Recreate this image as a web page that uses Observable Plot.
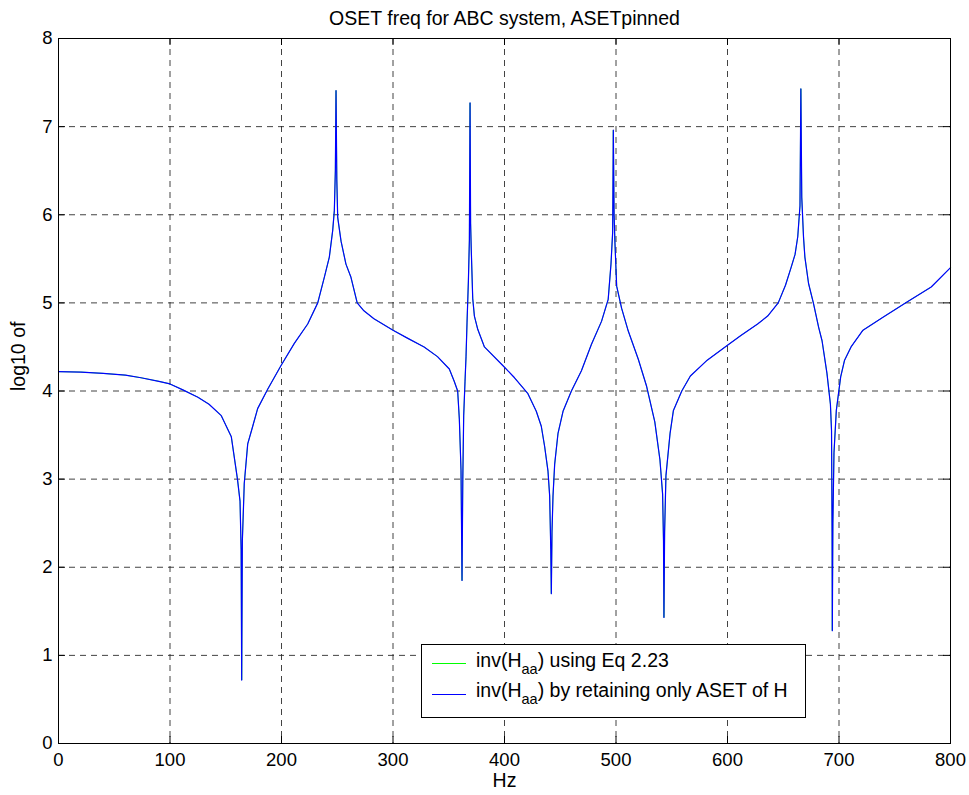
<!DOCTYPE html>
<html>
<head>
<meta charset="utf-8">
<script src="https://cdn.jsdelivr.net/npm/d3@7"></script>
<script src="https://cdn.jsdelivr.net/npm/@observablehq/plot@0.6"></script>
<style>
  body { margin: 0; background: #fff; }
  #chart svg { display: block; }
</style>
</head>
<body>
<div id="chart"></div>
<script>
// ---- data ----
const hz = [0, 20, 40, 60, 74, 90, 100, 112, 125, 135, 146, 155, 160.5, 162.8, 163.8, 164.3, 164.9, 166.6, 169.7, 174.2,
  178.6, 187.6, 199.6, 211.5, 223.5, 232.5, 238.4, 242.9, 245.9, 247.4, 248.3, 248.9, 249.6, 250.4, 253.4, 257.8,
  262.3, 267.9, 273.9, 282.9, 300, 312.9, 327.9, 339.9, 350.5, 354.9, 358, 359.5, 361, 361.9, 362.6, 363.4, 364.6,
  365.5, 366.4, 367.6, 368.5, 369.1, 369.6, 370.2, 371.5, 373, 376, 382, 400, 409, 421, 428.5, 433, 436, 439, 440.5,
  441.5, 442, 442.6, 443.5, 445, 448, 452.5, 460, 469, 478, 487, 493, 495.5, 497, 497.6, 498.3, 499, 500.6, 505, 511,
  520, 527.3, 534.8, 539.4, 541.8, 542.6, 543, 543.6, 544.8, 548.5, 551.5, 559, 566.7, 581.8, 600, 612, 627, 636,
  645.5, 652, 657, 660.6, 663, 665, 665.8, 666.6, 668.2, 669.4, 672.7, 677, 681.8, 684.8, 689.2, 692.3, 693.3, 693.8,
  694, 694.5, 695.5, 697.6, 701.5, 705, 710.8, 721.5, 739.8, 761, 782.7, 800];

const asetVals = [4.22, 4.215, 4.2, 4.18, 4.15, 4.11, 4.08, 4.01, 3.93, 3.85, 3.72, 3.48, 3.0, 2.75, 2.2, 0.72, 2.3, 2.95, 3.4, 3.6,
  3.8, 4.02, 4.29, 4.54, 4.76, 5.0, 5.29, 5.52, 5.82, 6.05, 6.5, 7.41, 6.4, 5.97, 5.7, 5.44,
  5.29, 5.0, 4.91, 4.82, 4.69, 4.6, 4.5, 4.39, 4.25, 4.11, 4.0, 3.68, 3.1, 1.85, 3.0, 3.72, 4.11,
  4.39, 4.78, 5.24, 5.71, 7.27, 5.9, 5.6, 5.05, 4.85, 4.7, 4.5, 4.27, 4.15, 3.97, 3.77, 3.6, 3.37, 3.09, 2.81,
  2.2, 1.7, 2.4, 2.81, 3.17, 3.52, 3.77, 4.0, 4.23, 4.53, 4.79, 5.04, 5.44, 5.8, 6.96, 6.0, 5.7, 5.19, 4.94, 4.68,
  4.36, 4.06, 3.65, 3.22, 2.83, 2.3, 1.43, 2.4, 3.04, 3.52, 3.78, 4.0, 4.17, 4.35, 4.52, 4.63, 4.76, 4.85,
  5.0, 5.2, 5.4, 5.55, 5.75, 6.1, 7.43, 6.2, 5.74, 5.52, 5.22, 5.0, 4.72, 4.57, 4.2, 3.85, 3.55, 2.4,
  1.28, 2.5, 3.3, 3.78, 4.16, 4.35, 4.5, 4.69, 4.84, 5.01, 5.18, 5.4];

// The Eq 2.23 curve coincides with the ASET curve in the picture
const eqVals = [4.22, 4.215, 4.2, 4.18, 4.15, 4.11, 4.08, 4.01, 3.93, 3.85, 3.72, 3.48, 3.0, 2.75, 2.2, 0.72, 2.3, 2.95, 3.4, 3.6,
  3.8, 4.02, 4.29, 4.54, 4.76, 5.0, 5.29, 5.52, 5.82, 6.05, 6.5, 7.41, 6.4, 5.97, 5.7, 5.44,
  5.29, 5.0, 4.91, 4.82, 4.69, 4.6, 4.5, 4.39, 4.25, 4.11, 4.0, 3.68, 3.1, 1.85, 3.0, 3.72, 4.11,
  4.39, 4.78, 5.24, 5.71, 7.27, 5.9, 5.6, 5.05, 4.85, 4.7, 4.5, 4.27, 4.15, 3.97, 3.77, 3.6, 3.37, 3.09, 2.81,
  2.2, 1.7, 2.4, 2.81, 3.17, 3.52, 3.77, 4.0, 4.23, 4.53, 4.79, 5.04, 5.44, 5.8, 6.96, 6.0, 5.7, 5.19, 4.94, 4.68,
  4.36, 4.06, 3.65, 3.22, 2.83, 2.3, 1.43, 2.4, 3.04, 3.52, 3.78, 4.0, 4.17, 4.35, 4.52, 4.63, 4.76, 4.85,
  5.0, 5.2, 5.4, 5.55, 5.75, 6.1, 7.43, 6.2, 5.74, 5.52, 5.22, 5.0, 4.72, 4.57, 4.2, 3.85, 3.55, 2.4,
  1.28, 2.5, 3.3, 3.78, 4.16, 4.35, 4.5, 4.69, 4.84, 5.01, 5.18, 5.4];

const xTicks = [0, 100, 200, 300, 400, 500, 600, 700, 800];
const yTicks = [0, 1, 2, 3, 4, 5, 6, 7, 8];
const titleText = "OSET freq for ABC system, ASETpinned";
const xLabel = "Hz";
const yLabel = "log10 of";
const legendItems = [
  { pre: "inv(H", sub: "aa", post: ") using Eq 2.23", color: "#00ff00" },
  { pre: "inv(H", sub: "aa", post: ") by retaining only ASET of H", color: "#0000ff" }
];

// ---- chart ----
const rows = hz.map((h, i) => ({ hz: h, eq: eqVals[i], aset: asetVals[i] }));
const font = "'Liberation Sans', Arial, Helvetica, sans-serif";
const grid = { stroke: "#222", strokeOpacity: 0.85, strokeDasharray: "6,5", strokeWidth: 1 };
const tickStyle = { stroke: "#000", strokeWidth: 1 };

const chart = Plot.plot({
  width: 969,
  height: 795,
  marginLeft: 58,
  marginRight: 19,
  marginTop: 38,
  marginBottom: 52,
  style: { fontFamily: font, fontSize: "18.5px", background: "#fff", color: "#000" },
  x: { domain: [0, 800] },
  y: { domain: [0, 8] },
  marks: [
    Plot.ruleX(xTicks.slice(1, -1), grid),
    Plot.ruleY(yTicks.slice(1, -1), grid),
    // inward ticks on all four sides
    Plot.ruleX(xTicks, { x: d => d, y1: 0, y2: 0, insetTop: -7, ...tickStyle }),
    Plot.ruleX(xTicks, { x: d => d, y1: 8, y2: 8, insetBottom: -7, ...tickStyle }),
    Plot.ruleY(yTicks, { y: d => d, x1: 0, x2: 0, insetRight: -7, ...tickStyle }),
    Plot.ruleY(yTicks, { y: d => d, x1: 800, x2: 800, insetLeft: -7, ...tickStyle }),
    Plot.line(rows, { x: "hz", y: "eq", stroke: "#00ff00", strokeWidth: 0.8 }),
    Plot.line(rows, { x: "hz", y: "aset", stroke: "#0000ff", strokeWidth: 1.2 }),
    Plot.frame({ stroke: "#000", strokeWidth: 1 }),
    Plot.axisX(xTicks, { tickSize: 0, tickPadding: 9, label: null, fontSize: 18.5, tickFormat: d => String(d) }),
    Plot.axisY(yTicks, { tickSize: 0, tickPadding: 6, label: null, fontSize: 18.5, tickFormat: d => String(d) }),
    Plot.text([titleText], { text: d => d, frameAnchor: "top", dy: -27, fontSize: 19.5 }),
    Plot.text([xLabel], { text: d => d, frameAnchor: "bottom", dy: 43, fontSize: 19.5 }),
    Plot.text([yLabel], { text: d => d, frameAnchor: "left", dx: -40, rotate: -90, fontSize: 19.5 })
  ]
});

document.getElementById("chart").appendChild(chart);

// ---- legend (inside the axes, like the reference) ----
const svg = d3.select(chart);
const lg = svg.append("g")
  .attr("font-family", font).attr("font-size", 19.5).attr("fill", "#000")
  .attr("text-anchor", "start");
lg.append("rect")
  .attr("x", 421.5).attr("y", 644.5).attr("width", 384).attr("height", 73)
  .attr("fill", "#fff").attr("stroke", "#000").attr("stroke-width", 1);
legendItems.forEach((it, i) => {
  const ly = 663.5 + i * 31;
  lg.append("line").attr("x1", 432).attr("x2", 466).attr("y1", ly).attr("y2", ly)
    .attr("stroke", it.color).attr("stroke-width", 1);
  const t = lg.append("text").attr("x", 476).attr("y", 667 + i * 30).attr("text-anchor", "start");
  t.append("tspan").text(it.pre);
  t.append("tspan").attr("dy", 7).attr("font-size", 14.5).text(it.sub);
  t.append("tspan").attr("dy", -7).text(it.post);
});
</script>
</body>
</html>
